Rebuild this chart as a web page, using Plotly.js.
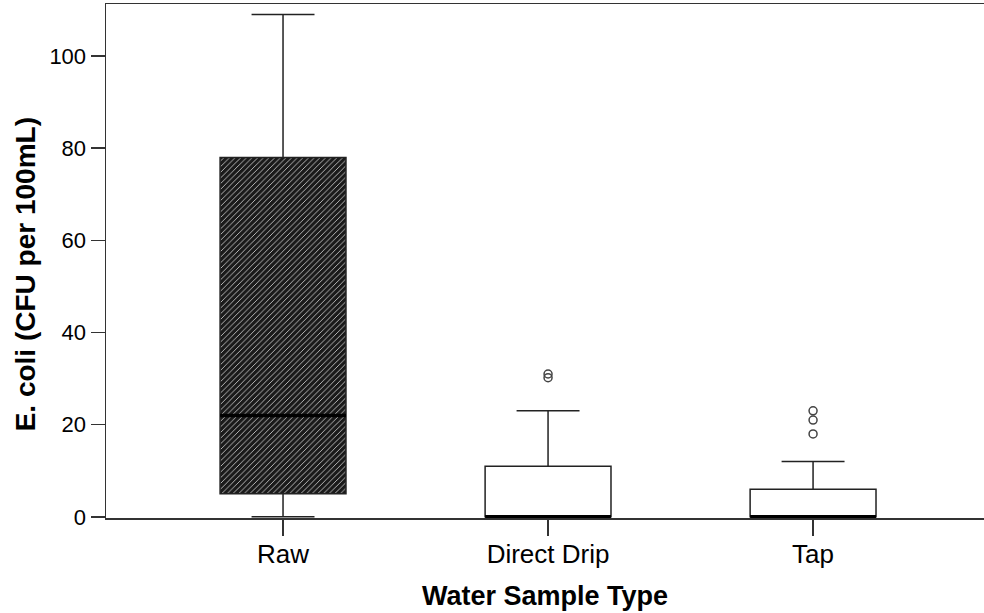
<!DOCTYPE html>
<html>
<head>
<meta charset="utf-8">
<script src="https://cdn.plot.ly/plotly-3.0.1.min.js"></script>
<style>html,body{margin:0;padding:0;background:#fff;}#chart{width:984px;height:613px;}</style>
</head>
<body>
<div id="chart"></div>
<script>
// Data
const categories = ["Raw", "Direct Drip", "Tap"];
const q1Values = [5, 0, 0];
const medianValues = [22, 0, 0];
const q3Values = [78, 11, 6];
const lowerWhisker = [0, 0, 0];
const upperWhisker = [109, 23, 12];
const outliersDirectDrip = [30.2, 31];
const outliersTap = [18, 21, 23];
const yTickValues = [0, 20, 40, 60, 80, 100];

const positions = categories.map((c, i) => i);
const boxWidth = 0.475;

const traces = [];

// Hatched fill for the Raw box
traces.push({
  type: 'bar',
  x: [positions[0]],
  base: [q1Values[0]],
  y: [q3Values[0] - q1Values[0]],
  width: boxWidth,
  marker: {
    color: '#262626',
    line: {width: 0},
    pattern: {shape: '/', fgcolor: '#c8c8c8', bgcolor: '#1a1a1a', size: 4, solidity: 0.22}
  },
  hoverinfo: 'skip',
  showlegend: false
});

// Box plots from precomputed statistics
categories.forEach((c, i) => {
  traces.push({
    type: 'box',
    orientation: 'v',
    x: [positions[i]],
    q1: [q1Values[i]],
    median: [medianValues[i]],
    q3: [q3Values[i]],
    lowerfence: [lowerWhisker[i]],
    upperfence: [upperWhisker[i]],
    width: boxWidth,
    whiskerwidth: 0.5,
    boxpoints: false,
    fillcolor: i === 0 ? 'rgba(0,0,0,0)' : '#ffffff',
    line: {color: '#222222', width: 1.5},
    name: c,
    showlegend: false
  });
});

// Thick median lines
const medX = [], medY = [];
categories.forEach((c, i) => {
  medX.push(positions[i] - boxWidth / 2, positions[i] + boxWidth / 2, null);
  medY.push(medianValues[i], medianValues[i], null);
});
traces.push({
  type: 'scatter', mode: 'lines', x: medX, y: medY,
  line: {color: '#000000', width: 3.5}, cliponaxis: false,
  hoverinfo: 'skip', showlegend: false
});

// Outliers
const outX = [], outY = [];
outliersDirectDrip.forEach(v => { outX.push(positions[1]); outY.push(v); });
outliersTap.forEach(v => { outX.push(positions[2]); outY.push(v); });
traces.push({
  type: 'scatter', mode: 'markers', x: outX, y: outY,
  marker: {symbol: 'circle-open', size: 8, color: '#444444', line: {width: 1.5, color: '#444444'}},
  showlegend: false
});

const layout = {
  width: 984, height: 613,
  margin: {l: 106, r: 0, t: 4, b: 95},
  paper_bgcolor: '#ffffff', plot_bgcolor: '#ffffff',
  font: {family: 'Liberation Sans, Arial, sans-serif', color: '#000000'},
  showlegend: false,
  barmode: 'overlay',
  xaxis: {
    range: [-0.668, 2.645],
    tickvals: positions,
    ticktext: categories,
    ticks: 'outside', ticklen: 16, tickwidth: 1.5, tickcolor: '#333333',
    ticklabelstandoff: -4,
    showline: true, linecolor: '#333333', linewidth: 1.5, mirror: true,
    showgrid: false, zeroline: false,
    tickfont: {size: 26, family: 'Liberation Sans, Arial, sans-serif', color: '#000'},
    title: {text: '<b>Water Sample Type</b>', font: {size: 27, family: 'Liberation Sans, Arial, sans-serif', color: '#000'}, standoff: 18}
  },
  yaxis: {
    range: [-0.25, 111.3],
    tickvals: yTickValues,
    ticks: 'outside', ticklen: 14, tickwidth: 1.5, tickcolor: '#333333',
    showline: true, linecolor: '#333333', linewidth: 1.5,
    showgrid: false, zeroline: false,
    tickfont: {size: 22, family: 'Liberation Sans, Arial, sans-serif', color: '#000'}
  },
  annotations: [{
    text: '<b>E. coli (CFU per 100mL)</b>',
    xref: 'paper', yref: 'paper', x: -0.0923, y: 0.474,
    xanchor: 'center', yanchor: 'middle', textangle: -90, showarrow: false,
    font: {size: 28, family: 'Liberation Sans, Arial, sans-serif', color: '#000'}
  }]
};

Plotly.newPlot('chart', traces, layout, {displayModeBar: false, staticPlot: true});
</script>
</body>
</html>
